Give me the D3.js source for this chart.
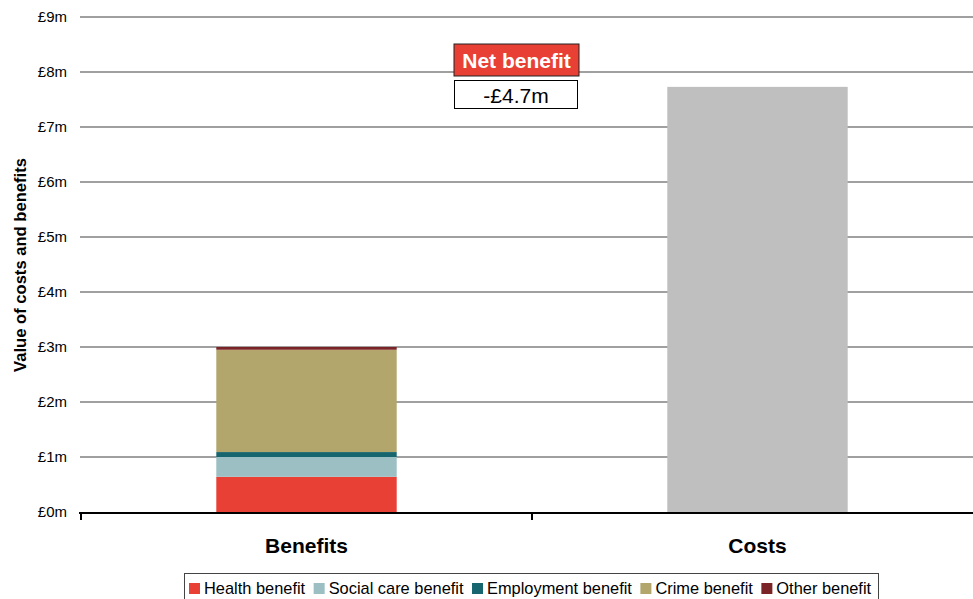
<!DOCTYPE html>
<html><head><meta charset="utf-8">
<script src="https://cdn.jsdelivr.net/npm/d3@7"></script>
<style>body{margin:0;background:#fff;font-family:"Liberation Sans",Arial,sans-serif;}</style>
</head><body><svg id="c" width="973" height="599"></svg>
<script>
const categories = ["Benefits", "Costs"];
const seriesNames = ["Health benefit", "Social care benefit", "Employment benefit", "Crime benefit", "Other benefit", "Costs"];
const seriesColors = ["#e84034", "#9bbfc2", "#17666f", "#b2a66c", "#7b2428", "#bfbfbf"];
const healthValues = [0.64, 0];
const socialCareValues = [0.36, 0];
const employmentValues = [0.09, 0];
const crimeValues = [1.86, 0];
const otherValues = [0.05, 0];
const costValues = [0, 7.73];
const yTicks = [0, 1, 2, 3, 4, 5, 6, 7, 8, 9];
const netBenefitLabel = "Net benefit";
const netBenefitValue = "-£4.7m";

const svg = d3.select("#c");
const x0 = 81, x1 = 983, yTop = 17, yBot = 512;
const x = d3.scaleBand().domain(categories).range([x0, x1]).paddingInner(0).paddingOuter(0);
const y = d3.scaleLinear().domain([0, 9]).range([yBot, yTop]);

// gridlines
svg.append("g").selectAll("line").data(yTicks.filter(d => d > 0)).join("line")
  .attr("x1", x0 - 1).attr("x2", 973).attr("y1", d => y(d)).attr("y2", d => y(d))
  .attr("stroke", "#a0a0a0").attr("stroke-width", 2);

// y-axis tick labels
svg.append("g").selectAll("text").data(yTicks).join("text")
  .attr("x", 67).attr("y", d => y(d)).attr("dy", "0.35em").attr("text-anchor", "end")
  .attr("font-size", 15).attr("fill", "#000").text(d => "£" + d + "m");

svg.append("text").attr("transform", `translate(26,265) rotate(-90)`)
  .attr("text-anchor", "middle").attr("font-size", 16.6).attr("font-weight", "bold").text("Value of costs and benefits");

// stacked data
const rows = categories.map((c, i) => ({
  cat: c,
  "Health benefit": healthValues[i], "Social care benefit": socialCareValues[i],
  "Employment benefit": employmentValues[i], "Crime benefit": crimeValues[i],
  "Other benefit": otherValues[i], "Costs": costValues[i]
}));
const stack = d3.stack().keys(seriesNames)(rows);
const color = d3.scaleOrdinal().domain(seriesNames).range(seriesColors);
const bw = x.bandwidth() * 0.4;
svg.append("g").selectAll("g").data(stack).join("g").attr("fill", d => color(d.key))
  .selectAll("rect").data(d => d.filter(p => p[1] - p[0] > 0)).join("rect")
  .attr("x", d => x(d.data.cat) + (x.bandwidth() - bw) / 2)
  .attr("width", bw)
  .attr("y", d => y(d[1]))
  .attr("height", d => y(d[0]) - y(d[1]));

// x axis
svg.append("line").attr("x1", x0 - 2).attr("x2", 973).attr("y1", yBot + 1).attr("y2", yBot + 1)
  .attr("stroke", "#000").attr("stroke-width", 2);
svg.append("g").selectAll("line").data([x0, x(categories[1])]).join("line")
  .attr("x1", d => d).attr("x2", d => d).attr("y1", yBot).attr("y2", yBot + 8)
  .attr("stroke", "#000").attr("stroke-width", 2);
svg.append("g").selectAll("text").data(categories).join("text")
  .attr("x", d => x(d) + x.bandwidth() / 2).attr("y", 553).attr("text-anchor", "middle")
  .attr("font-size", 21).attr("font-weight", "bold").text(d => d);

// net benefit box
svg.append("rect").attr("x", 454).attr("y", 44).attr("width", 125).attr("height", 32)
  .attr("fill", "#e84034").attr("stroke", "#222").attr("stroke-width", 1);
svg.append("text").attr("x", 516.5).attr("y", 67.5).attr("text-anchor", "middle").attr("font-size", 21)
  .attr("font-weight", "bold").attr("fill", "#fff").text(netBenefitLabel);
svg.append("rect").attr("x", 454.5).attr("y", 80.5).attr("width", 123).attr("height", 28)
  .attr("fill", "#fff").attr("stroke", "#000").attr("stroke-width", 1);
svg.append("text").attr("x", 516).attr("y", 102.5).attr("text-anchor", "middle").attr("font-size", 21)
  .attr("fill", "#000").text(netBenefitValue);

// legend
const legendKeys = seriesNames.slice(0, 5);
const lg = svg.append("g");
lg.append("rect").attr("x", 184.5).attr("y", 573.5).attr("width", 694).attr("height", 26)
  .attr("fill", "#fff").attr("stroke", "#444").attr("stroke-width", 1);
let lx = 189;
legendKeys.forEach(k => {
  lg.append("rect").attr("x", lx).attr("y", 583).attr("width", 11).attr("height", 11).attr("fill", color(k));
  const t = lg.append("text").attr("x", lx + 15).attr("y", 593.5).attr("font-size", 16.4).text(k);
  lx += 15 + t.node().getComputedTextLength() + 8.5;
});
</script></body></html>
